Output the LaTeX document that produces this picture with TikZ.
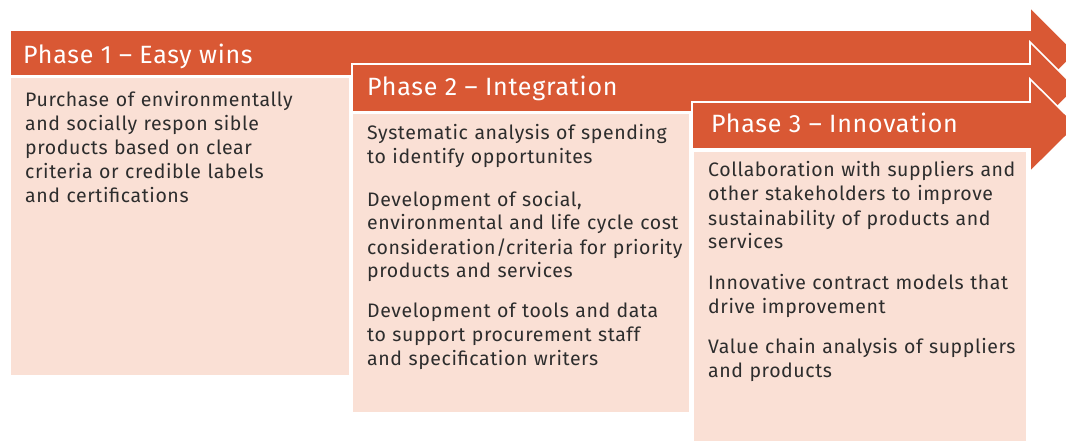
\documentclass[tikz,border=0pt]{standalone}
\usepackage{fontspec}
\setmainfont{Fira Sans}[LetterSpace=3]
\definecolor{phaseorange}{RGB}{217,88,52}
\definecolor{phasepeach}{RGB}{250,224,213}
\definecolor{phasetext}{RGB}{45,45,45}

\begin{document}
\begin{tikzpicture}[x=1pt,y=1pt,yscale=-1,xscale=1,
  phasearrow/.style={fill=phaseorange,draw=white,line width=1.6pt,line join=miter},
  phasebox/.style={fill=phasepeach,draw=white,line width=1.6pt},
  headtext/.style={anchor=base west,inner sep=0pt,text=white,font=\fontsize{25}{28}\selectfont},
  bodytext/.style={anchor=base west,inner sep=0pt,text=phasetext,align=left,text width=320pt,font=\fontsize{19.5}{24}\selectfont}]
\useasboundingbox (0,0) rectangle (1066,441);
\clip (0,0) rectangle (1066,441);

%Shape: Arrow 1
\draw [phasearrow] (10,30) -- (1030,30) -- (1030,7) -- (1076,53) -- (1030,99) -- (1030,76) -- (10,76) -- cycle ;
%Shape: Rectangle 1
\draw [phasebox] (10,77) rectangle (350,376) ;
%Shape: Arrow 2
\draw [phasearrow] (352,64) -- (1030,64) -- (1030,42) -- (1076,88) -- (1030,134) -- (1030,112) -- (352,112) -- cycle ;
%Shape: Rectangle 2
\draw [phasebox] (352,113) rectangle (690,413) ;
%Shape: Arrow 3
\draw [phasearrow] (692,102) -- (1030,102) -- (1030,79) -- (1077,125.5) -- (1030,172) -- (1030,149) -- (692,149) -- cycle ;
%Shape: Rectangle 3
\draw [phasebox] (693,151) rectangle (1027,446) ;

% Text Node
\node [headtext] (ph1) at (23,64) {Phase 1 -- Easy wins};
\node [headtext] (ph2) at (367,96) {Phase 2 -- Integration};
\node [headtext] (ph3) at (711,133) {Phase 3 -- Innovation};

% Text Node
\node [bodytext] (ph1a) at (25,107) {Purchase of environmentally\\and socially respon sible\\products based on clear\\criteria or credible labels\\and certifications};
% Text Node
\node [bodytext] (ph2a) at (367,140) {Systematic analysis of spending\\to identify opportunites};
\node [bodytext] (ph2b) at (367,206) {Development of social,\\environmental and life cycle cost\\consideration/criteria for priority\\products and services};
\node [bodytext] (ph2c) at (367,317) {Development of tools and data\\to support procurement staff\\and specification writers};
% Text Node
\node [bodytext] (ph3a) at (708,177) {Collaboration with suppliers and\\other stakeholders to improve\\sustainability of products and\\services};
\node [bodytext] (ph3b) at (708,289) {Innovative contract models that\\drive improvement};
\node [bodytext] (ph3c) at (708,353) {Value chain analysis of suppliers\\and products};

\end{tikzpicture}
\end{document}
